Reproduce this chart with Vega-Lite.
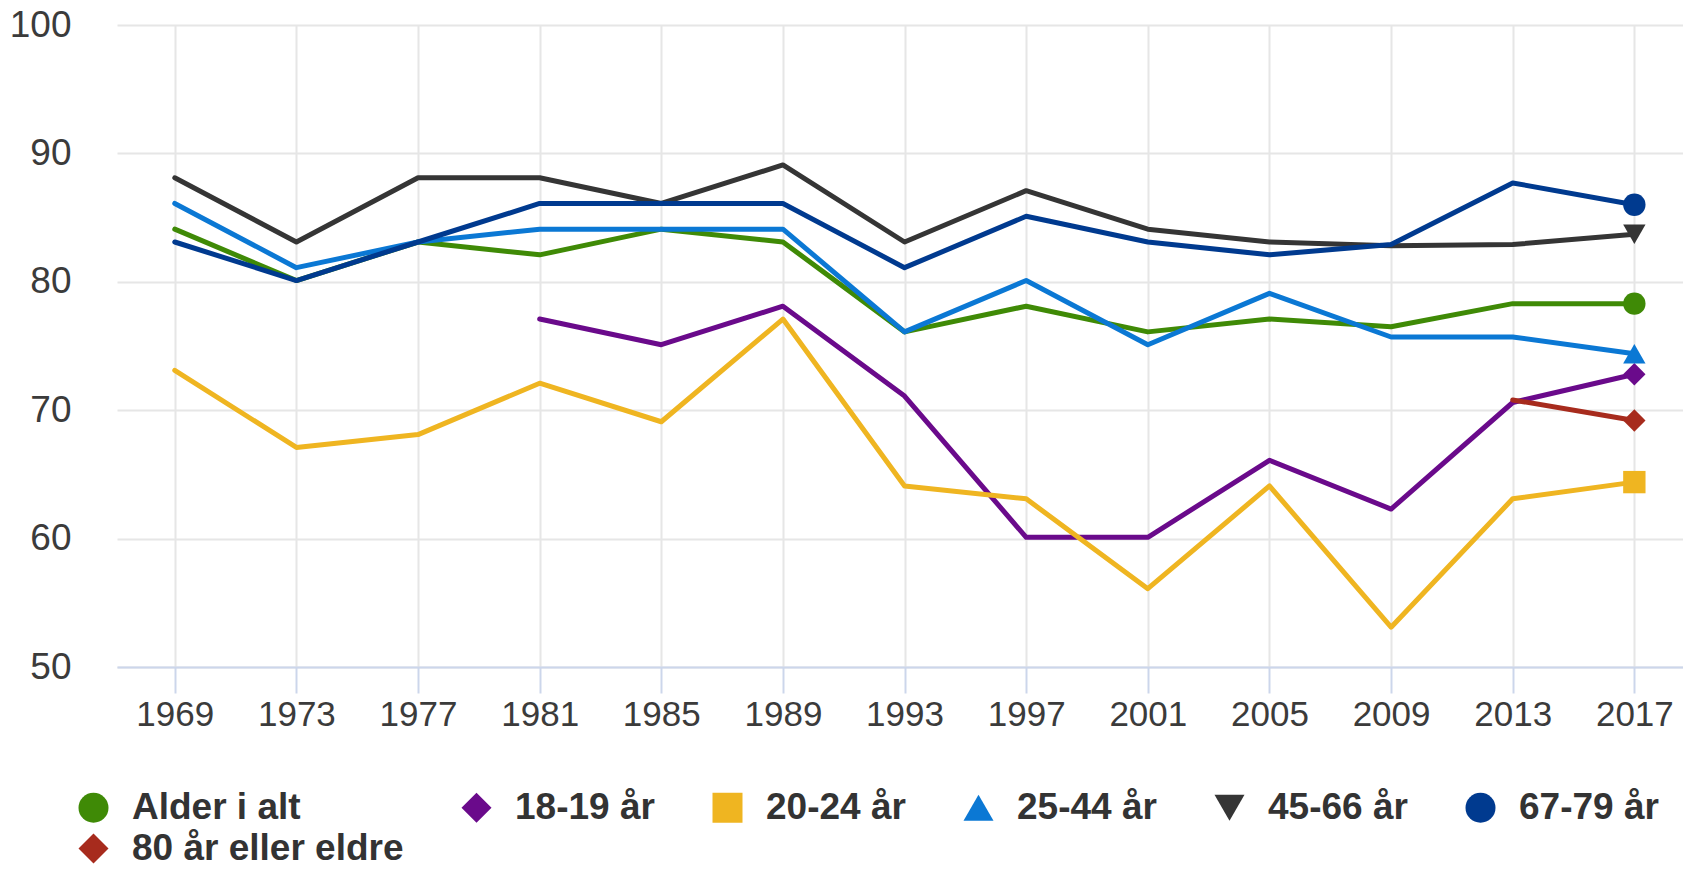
{
  "$schema": "https://vega.github.io/schema/vega-lite/v6.json",
  "autosize": "none",
  "width": 1566,
  "height": 642,
  "padding": {"left": 117, "top": 25, "right": 0, "bottom": 202},
  "background": "#ffffff",
  "config": {
    "view": {"stroke": null},
    "font": "Liberation Sans"
  },
  "data": {
    "values": [
      {"year": 1969, "series": "Alder i alt", "value": 84.1},
      {"year": 1973, "series": "Alder i alt", "value": 80.1},
      {"year": 1977, "series": "Alder i alt", "value": 83.1},
      {"year": 1981, "series": "Alder i alt", "value": 82.1},
      {"year": 1985, "series": "Alder i alt", "value": 84.1},
      {"year": 1989, "series": "Alder i alt", "value": 83.1},
      {"year": 1993, "series": "Alder i alt", "value": 76.1},
      {"year": 1997, "series": "Alder i alt", "value": 78.1},
      {"year": 2001, "series": "Alder i alt", "value": 76.1},
      {"year": 2005, "series": "Alder i alt", "value": 77.1},
      {"year": 2009, "series": "Alder i alt", "value": 76.5},
      {"year": 2013, "series": "Alder i alt", "value": 78.3},
      {"year": 2017, "series": "Alder i alt", "value": 78.3},

      {"year": 1981, "series": "18-19 år", "value": 77.1},
      {"year": 1985, "series": "18-19 år", "value": 75.1},
      {"year": 1989, "series": "18-19 år", "value": 78.1},
      {"year": 1993, "series": "18-19 år", "value": 71.1},
      {"year": 1997, "series": "18-19 år", "value": 60.1},
      {"year": 2001, "series": "18-19 år", "value": 60.1},
      {"year": 2005, "series": "18-19 år", "value": 66.1},
      {"year": 2009, "series": "18-19 år", "value": 62.3},
      {"year": 2013, "series": "18-19 år", "value": 70.6},
      {"year": 2017, "series": "18-19 år", "value": 72.8},

      {"year": 1969, "series": "20-24 år", "value": 73.1},
      {"year": 1973, "series": "20-24 år", "value": 67.1},
      {"year": 1977, "series": "20-24 år", "value": 68.1},
      {"year": 1981, "series": "20-24 år", "value": 72.1},
      {"year": 1985, "series": "20-24 år", "value": 69.1},
      {"year": 1989, "series": "20-24 år", "value": 77.1},
      {"year": 1993, "series": "20-24 år", "value": 64.1},
      {"year": 1997, "series": "20-24 år", "value": 63.1},
      {"year": 2001, "series": "20-24 år", "value": 56.1},
      {"year": 2005, "series": "20-24 år", "value": 64.1},
      {"year": 2009, "series": "20-24 år", "value": 53.1},
      {"year": 2013, "series": "20-24 år", "value": 63.1},
      {"year": 2017, "series": "20-24 år", "value": 64.4},

      {"year": 1969, "series": "25-44 år", "value": 86.1},
      {"year": 1973, "series": "25-44 år", "value": 81.1},
      {"year": 1977, "series": "25-44 år", "value": 83.1},
      {"year": 1981, "series": "25-44 år", "value": 84.1},
      {"year": 1985, "series": "25-44 år", "value": 84.1},
      {"year": 1989, "series": "25-44 år", "value": 84.1},
      {"year": 1993, "series": "25-44 år", "value": 76.1},
      {"year": 1997, "series": "25-44 år", "value": 80.1},
      {"year": 2001, "series": "25-44 år", "value": 75.1},
      {"year": 2005, "series": "25-44 år", "value": 79.1},
      {"year": 2009, "series": "25-44 år", "value": 75.7},
      {"year": 2013, "series": "25-44 år", "value": 75.7},
      {"year": 2017, "series": "25-44 år", "value": 74.4},

      {"year": 1969, "series": "45-66 år", "value": 88.1},
      {"year": 1973, "series": "45-66 år", "value": 83.1},
      {"year": 1977, "series": "45-66 år", "value": 88.1},
      {"year": 1981, "series": "45-66 år", "value": 88.1},
      {"year": 1985, "series": "45-66 år", "value": 86.1},
      {"year": 1989, "series": "45-66 år", "value": 89.1},
      {"year": 1993, "series": "45-66 år", "value": 83.1},
      {"year": 1997, "series": "45-66 år", "value": 87.1},
      {"year": 2001, "series": "45-66 år", "value": 84.1},
      {"year": 2005, "series": "45-66 år", "value": 83.1},
      {"year": 2009, "series": "45-66 år", "value": 82.8},
      {"year": 2013, "series": "45-66 år", "value": 82.9},
      {"year": 2017, "series": "45-66 år", "value": 83.7},

      {"year": 1969, "series": "67-79 år", "value": 83.1},
      {"year": 1973, "series": "67-79 år", "value": 80.1},
      {"year": 1977, "series": "67-79 år", "value": 83.1},
      {"year": 1981, "series": "67-79 år", "value": 86.1},
      {"year": 1985, "series": "67-79 år", "value": 86.1},
      {"year": 1989, "series": "67-79 år", "value": 86.1},
      {"year": 1993, "series": "67-79 år", "value": 81.1},
      {"year": 1997, "series": "67-79 år", "value": 85.1},
      {"year": 2001, "series": "67-79 år", "value": 83.1},
      {"year": 2005, "series": "67-79 år", "value": 82.1},
      {"year": 2009, "series": "67-79 år", "value": 82.9},
      {"year": 2013, "series": "67-79 år", "value": 87.7},
      {"year": 2017, "series": "67-79 år", "value": 86.0},

      {"year": 2013, "series": "80 år eller eldre", "value": 70.8},
      {"year": 2017, "series": "80 år eller eldre", "value": 69.2}
    ]
  },
  "encoding": {
    "x": {
      "field": "year",
      "type": "quantitative",
      "scale": {"domain": [1967.1, 2018.6], "nice": false, "zero": false},
      "axis": {
        "title": null,
        "values": [1969, 1973, 1977, 1981, 1985, 1989, 1993, 1997, 2001, 2005, 2009, 2013, 2017],
        "format": "d",
        "grid": true,
        "gridColor": "#e6e6e6",
        "gridWidth": 2,
        "domainColor": "#ccd6eb",
        "domainWidth": 2,
        "tickColor": "#ccd6eb",
        "tickWidth": 2,
        "tickSize": 26,
        "labelPadding": 4,
        "labelFontSize": 35,
        "labelColor": "#3b3b3b",
        "labelFont": "Liberation Sans"
      }
    },
    "y": {
      "field": "value",
      "type": "quantitative",
      "scale": {"domain": [50, 100], "nice": false, "zero": false},
      "axis": {
        "title": null,
        "values": [50, 60, 70, 80, 90, 100],
        "grid": true,
        "gridColor": "#e6e6e6",
        "gridWidth": 2,
        "domain": false,
        "ticks": false,
        "labelPadding": 46,
        "labelFontSize": 37,
        "labelColor": "#3b3b3b",
        "labelFont": "Liberation Sans"
      }
    },
    "color": {
      "field": "series",
      "type": "nominal",
      "scale": {
        "domain": ["Alder i alt", "18-19 år", "20-24 år", "25-44 år", "45-66 år", "67-79 år", "80 år eller eldre"],
        "range": ["#3f8a06", "#6a0a8b", "#efb521", "#0b78d4", "#353535", "#003a8f", "#a72b1d"]
      },
      "legend": {
        "title": null,
        "orient": "none",
        "legendX": -42,
        "legendY": 764,
        "direction": "horizontal",
        "columns": 6,
        "gridAlign": "each",
        "columnPadding": 54,
        "rowPadding": 3,
        "symbolSize": 900,
        "symbolStrokeWidth": 0,
        "symbolOpacity": 1,
        "labelOffset": 20,
        "labelFontSize": 37,
        "labelFontWeight": "bold",
        "labelColor": "#333333",
        "labelFont": "Liberation Sans",
        "labelLimit": 600
      }
    }
  },
  "layer": [
    {
      "mark": {"type": "line", "strokeWidth": 5, "strokeJoin": "round", "strokeCap": "round"},
      "encoding": {
        "detail": {"field": "series"}
      }
    },
    {
      "transform": [{"filter": "datum.year == 2017"}],
      "mark": {"type": "point", "filled": true, "opacity": 1, "size": 500, "strokeWidth": 0},
      "encoding": {
        "shape": {
          "field": "series",
          "type": "nominal",
          "scale": {
            "domain": ["Alder i alt", "18-19 år", "20-24 år", "25-44 år", "45-66 år", "67-79 år", "80 år eller eldre"],
            "range": ["circle", "diamond", "square", "triangle-up", "triangle-down", "circle", "diamond"]
          },
          "legend": null
        }
      }
    }
  ]
}
